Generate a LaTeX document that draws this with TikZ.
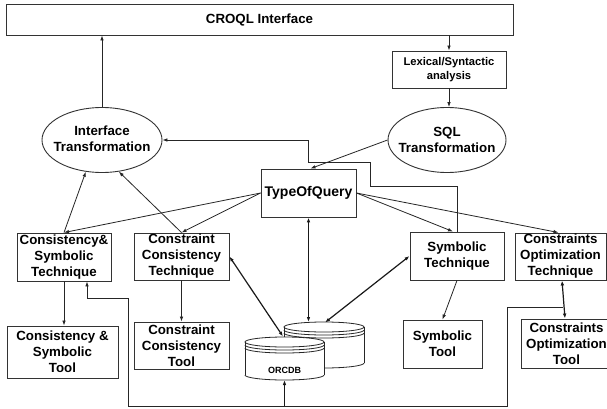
\documentclass[tikz,border=0pt]{standalone}
\usepackage{fontspec}
\setmainfont{Liberation Sans}
\usetikzlibrary{arrows.meta,shapes.geometric,calc}
\newcommand\lowarc[3]{%
  \begin{scope}
    \clip (#1-#2-2,#3) rectangle (#1+#2+2,#3+8);
    \draw[dbline] (#1,#3) ellipse[x radius=#2, y radius=5];
  \end{scope}}
\newcommand\dbcyl[4]{%
  \pgfmathsetmacro\dbcx{(#1+#2)/2}%
  \pgfmathsetmacro\dbrx{(#2-#1)/2}%
  \pgfmathsetmacro\dbta{#3+5}%
  \pgfmathsetmacro\dbbb{#4-5}%
  \fill[white] (#1,\dbta) rectangle (#2,\dbbb);
  \fill[white] (\dbcx,\dbta) ellipse[x radius=\dbrx, y radius=5];
  \fill[white] (\dbcx,\dbbb) ellipse[x radius=\dbrx, y radius=5];
  \draw[dbline] (#1,\dbta) -- (#1,\dbbb) (#2,\dbta) -- (#2,\dbbb);
  \draw[dbline] (\dbcx,\dbta) ellipse[x radius=\dbrx, y radius=5];
  \lowarc{\dbcx}{\dbrx}{\dbta+3}
  \lowarc{\dbcx}{\dbrx}{\dbta+6}
  \lowarc{\dbcx}{\dbrx}{\dbbb}
}
\begin{document}
\begin{tikzpicture}[x=1pt,y=-1pt,
  >={Latex[length=5pt,width=3.6pt]},
  mainfont/.style={font=\bfseries\fontsize{13.3}{16}\selectfont},
  box/.style={draw=black!80, line width=0.9pt, inner sep=0pt, align=center, mainfont},
  bx/.style n args={2}{box, minimum width=#1pt, minimum height=#2pt},
  ell/.style n args={2}{draw=black!80, line width=0.9pt, ellipse, inner sep=0pt, minimum width=#1pt, minimum height=#2pt},
  txt/.style={align=center, inner sep=0pt, mainfont},
  dbline/.style={draw=black!85, line width=0.8pt},
  conn/.style={draw=black!85, line width=0.8pt},
  dbconn/.style={draw=black!90, line width=1.2pt},
]
\fill[white] (0,0) rectangle (607,409);
\useasboundingbox (0,0) rectangle (607,409);

% boxes
\node[bx={507}{31}] (croql) at (259.5,19.5) {CROQL Interface};
\node[bx={114}{37}, font=\bfseries\fontsize{11.2}{13.5}\selectfont] (lex) at (449,69.5) {Lexical/Syntactic\\analysis};
\node[ell={118}{65}] (sql) at (447,140) {};
\node[txt] (sqlT) at (447,140) {SQL\\Transformation};
\node[ell={120}{65}] (intf) at (102,140) {};
\node[txt] (intfT) at (102,139) {Interface\\Transformation};
\node[bx={95}{48}, font=\bfseries\fontsize{14}{16}\selectfont] (toq) at (308.5,193) {TypeOfQuery};
\node[bx={94}{48}] (cst) at (64,257) {Consistency\&\\Symbolic\\Technique};
\node[bx={95}{47}] (cct) at (181.5,256.5) {Constraint\\Consistency\\Technique};
\node[bx={94}{48}] (st) at (457,256) {Symbolic\\Technique};
\node[bx={91}{47}] (cot) at (560.5,256.5) {Constraints\\Optimization\\Technique};
\node[bx={111}{52}] (cstool) at (62.5,352) {Consistency \&\\Symbolic\\Tool};
\node[bx={95}{47}] (cctool) at (181.5,345.5) {Constraint\\Consistency\\Tool};
\node[bx={79}{48}] (stool) at (442.5,344) {Symbolic\\Tool};
\node[bx={91}{49}] (cotool) at (566.5,343.5) {Constraints\\Optimization\\Tool};

% databases
\dbcyl{284}{364}{322}{368}
\dbcyl{245}{324}{337}{380}
\node[inner sep=0pt, font=\bfseries\fontsize{9}{10}\selectfont] (orcdb) at (284.5,370) {ORCDB};

\coordinate (dbBn) at (308.5,322);
\coordinate (dbBne) at (325,322.5);
\coordinate (dbFn) at (283,336.5);
\coordinate (dbFs) at (284.5,380);
\coordinate (jn) at (563,307);
\coordinate (jb) at (284.5,406);

% connectors
\draw[conn,->] (intf.north) -- (intf.north |- croql.south);
\draw[conn,->] (lex.north |- croql.south) -- (lex.north);
\draw[conn,->] (lex.south) -- (lex.south |- sql.north);
\draw[conn,->] (sql.west) -- ([xshift=2pt]toq.north);
\draw[conn,->] (toq.west) -- (cst.north);
\draw[conn,->] (toq.west) -- (cct.north);
\draw[conn,->] (toq.east) -- ([xshift=-4pt]st.north);
\draw[conn,->] (toq.east) -- ([xshift=-2pt]cot.north);
\draw[conn,->] (cst.north) -- (intf.243);
\draw[conn,->] (cct.north) -- (intf.298);
\draw[conn,->] (st.north) -- (457,186) -- (370,186) -- (370,162) -- (308,162) -- (308,140) -- (intf.east);
\draw[conn,->] (cst.south) -- (cst.south |- cstool.north);
\draw[conn,->] (cct.south) -- (cct.south |- cctool.north);
\draw[conn,->] (st.south) -- (stool.north);
\draw[dbconn,<->] ([xshift=1.5pt]cot.south) -- ([xshift=-1.5pt]cotool.north);
\draw[dbconn,<->] (toq.south) -- (dbBn);
\draw[dbconn,<->] (st.west) -- (dbBne);
\draw[dbconn,<->] (cct.east) -- (dbFn);
\draw[conn,->] (jn) -- (507,307) -- (507,406) -- (128,406) -- (128,298) -- (87,298) -- ([xshift=23pt]cst.south);
\draw[dbconn,->] (jb) -- (dbFs);
\end{tikzpicture}
\end{document}
